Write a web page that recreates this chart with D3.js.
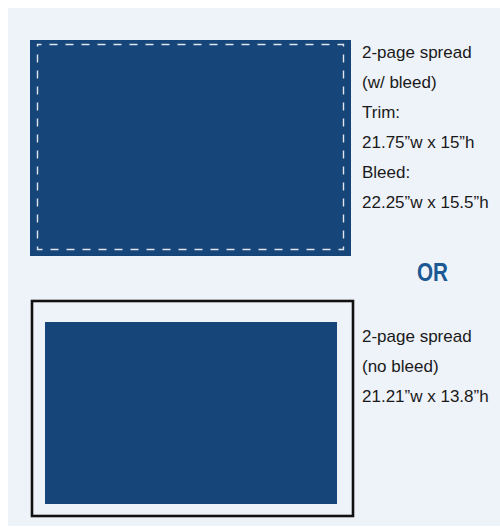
<!DOCTYPE html>
<html>
<head>
<meta charset="utf-8">
<script src="https://cdn.jsdelivr.net/npm/d3@7"></script>
<style>
	body { margin: 0; background: #fff; }
	svg { display: block; }
</style>
</head>
<body>
<div id="chart"></div>
<script>
// spec labels for each option
const bleedLines = ["2-page spread", "(w/ bleed)", "Trim:", "21.75\u201dw x 15\u201dh", "Bleed:", "22.25\u201dw x 15.5\u201dh"];
const noBleedLines = ["2-page spread", "(no bleed)", "21.21\u201dw x 13.8\u201dh"];
const separator = ["OR"];

const width = 500;
const height = 527;
const blue = "#164679";
const panel = "#eef2f9";

/* eslint-disable indent */
const svg = d3.select("#chart")
	.append("svg")
		.attr("width", width)
		.attr("height", height);

// background panel
svg.append("rect")
	.attr("x", 8)
	.attr("y", 8)
	.attr("width", width - 8)
	.attr("height", height - 9)
	.attr("fill", panel);

// top: spread with bleed
const bleedBox = svg.append("g").attr("transform", "translate(30,40)");
bleedBox.append("rect")
	.attr("width", 321)
	.attr("height", 216)
	.attr("fill", blue);
// trim line
bleedBox.append("rect")
	.attr("x", 7.5)
	.attr("y", 4.5)
	.attr("width", 306)
	.attr("height", 205)
	.attr("fill", "none")
	.attr("stroke", "#dfe4ee")
	.attr("stroke-width", 1.4)
	.attr("stroke-dasharray", "8,8")
	.attr("stroke-dashoffset", 4);

// bottom: spread without bleed
const noBleedBox = svg.append("g").attr("transform", "translate(32,301)");
noBleedBox.append("rect")
	.attr("width", 321)
	.attr("height", 215)
	.attr("fill", "none")
	.attr("stroke", "#111")
	.attr("stroke-width", 2.6);
noBleedBox.append("rect")
	.attr("x", 13)
	.attr("y", 21)
	.attr("width", 292)
	.attr("height", 182)
	.attr("fill", blue);

// text labels
const lineY = d3.scaleLinear().domain([0, 1]).range([0, 30]);

svg.append("g")
		.attr("transform", "translate(362,57.5)")
	.selectAll("text")
	.data(bleedLines)
	.join("text")
		.attr("y", (d, i) => lineY(i))
		.text(d => d);

svg.append("g")
		.attr("transform", "translate(362,341.5)")
	.selectAll("text")
	.data(noBleedLines)
	.join("text")
		.attr("y", (d, i) => lineY(i))
		.text(d => d);

svg.selectAll("g text")
	.attr("font-family", "'Liberation Sans', Arial, sans-serif")
	.attr("font-size", "17px")
	.attr("fill", "#1a1a1a");

svg.selectAll("text.or")
	.data(separator)
	.join("text")
		.attr("class", "or")
		.attr("x", 417)
		.attr("y", 281)
		.attr("font-family", "'Liberation Sans', Arial, sans-serif")
		.attr("font-weight", "bold")
		.attr("font-size", "25px")
		.attr("textLength", 31)
		.attr("lengthAdjust", "spacingAndGlyphs")
		.attr("fill", "#1b5894")
		.text(d => d);
/* eslint-enable */
</script>
</body>
</html>
